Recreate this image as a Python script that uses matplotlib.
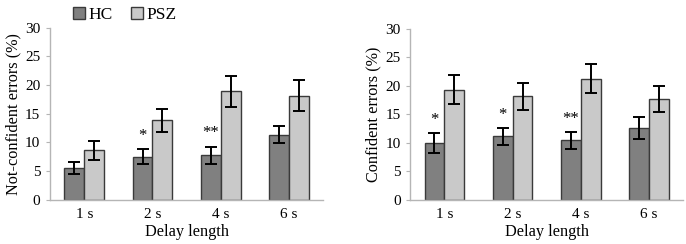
import numpy as np
import matplotlib.pyplot as plt

plt.rcParams["font.family"] = ["Liberation Serif", "DejaVu Serif"]

delays = ["1 s", "2 s", "4 s", "6 s"]

# Not-confident errors (%)
nc_hc = [5.5, 7.45, 7.7, 11.3]
nc_hc_err = [1.0, 1.3, 1.55, 1.5]
nc_psz = [8.6, 13.8, 18.9, 18.1]
nc_psz_err = [1.7, 2.0, 2.7, 2.7]
nc_stars = ["", "*", "**", ""]

# Confident errors (%)
c_hc = [9.9, 11.1, 10.4, 12.5]
c_hc_err = [1.7, 1.45, 1.5, 1.95]
c_psz = [19.3, 18.1, 21.2, 17.6]
c_psz_err = [2.6, 2.35, 2.55, 2.3]
c_stars = ["*", "*", "**", ""]

HC_COLOR = "#808080"
PSZ_COLOR = "#c9c9c9"
EDGE = "#3a3a3a"
SPINE = "#b5b5b5"
W = 0.29


def draw_panel(ax, hc, hc_err, psz, psz_err, stars, ylabel):
    x = np.arange(len(delays))
    ekw = dict(ecolor="black", elinewidth=1.4, capsize=4.5, capthick=1.4)
    ax.bar(x - W / 2, hc, W, color=HC_COLOR, edgecolor=EDGE, linewidth=1.0,
           yerr=hc_err, error_kw=ekw, label="HC")
    ax.bar(x + W / 2, psz, W, color=PSZ_COLOR, edgecolor=EDGE, linewidth=1.0,
           yerr=psz_err, error_kw=ekw, label="PSZ")
    for xi, h, e, s in zip(x, hc, hc_err, stars):
        if s:
            ax.text(xi - W / 2, h + e + 2.3, s, ha="center", va="center",
                    fontsize=12)
    ax.set_xlim(-0.5, len(delays) - 0.5)
    ax.set_ylim(0, 30)
    ax.set_yticks(range(0, 31, 5))
    ax.set_xticks(x)
    ax.set_xticklabels(delays)
    ax.tick_params(axis="x", length=0, pad=6, labelsize=11)
    ax.tick_params(axis="y", length=3, color=SPINE, labelsize=11, pad=4)
    for side in ["top", "right"]:
        ax.spines[side].set_visible(False)
    for side in ["left", "bottom"]:
        ax.spines[side].set_color(SPINE)
        ax.spines[side].set_linewidth(1.0)
    ax.set_xlabel("Delay length", fontsize=11.7, labelpad=2)
    ax.set_ylabel(ylabel, fontsize=11.7, labelpad=3)


fig = plt.figure(figsize=(6.86, 2.44), dpi=100)
ax1 = fig.add_axes([0.073, 0.182, 0.398, 0.705])
ax2 = fig.add_axes([0.598, 0.182, 0.398, 0.701])

draw_panel(ax1, nc_hc, nc_hc_err, nc_psz, nc_psz_err, nc_stars, "Not-confident errors (%)")
draw_panel(ax2, c_hc, c_hc_err, c_psz, c_psz_err, c_stars, "Confident errors (%)")

ax1.legend(loc="center left", bbox_to_anchor=(0.085, 1.075), ncol=2, frameon=False,
           fontsize=12.5, handlelength=0.7, handleheight=0.7, handletextpad=0.2,
           columnspacing=1.0, borderaxespad=0, borderpad=0)

fig.savefig("out.png", dpi=100)
